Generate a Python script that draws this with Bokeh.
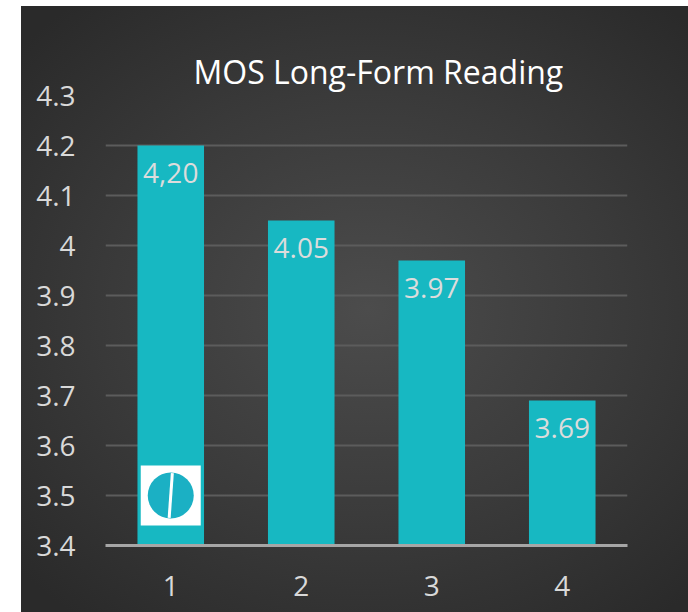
from bokeh.plotting import figure
from bokeh.models import FixedTicker, Spacer, ColumnDataSource
from bokeh.layouts import row, column
from bokeh.embed import file_html
from bokeh.resources import INLINE
from bokeh.core.properties import value

categories = ["1", "2", "3", "4"]
scores = [4.20, 4.05, 3.97, 3.69]
score_labels = ["4,20", "4.05", "3.97", "3.69"]
y_ticks = [3.4, 3.5, 3.6, 3.7, 3.8, 3.9, 4.0, 4.1, 4.2, 4.3]
title_text = "MOS Long-Form Reading"

FONT = "Open Sans"
BAR = "#17b8c2"

p = figure(
    x_range=categories, y_range=(3.4, 4.3),
    width=667, height=606,
    output_backend="svg", toolbar_location=None,
    min_border_left=84, min_border_right=61, min_border_top=89, min_border_bottom=67,
    title=title_text,
    styles={"background": "radial-gradient(ellipse 70% 65% at 52% 50%, #4c4c4c 0%, #3a3a3a 55%, #2a2a2a 100%)"},
)
p.x_range.range_padding = 0
p.background_fill_alpha = 0
p.border_fill_alpha = 0
p.outline_line_color = None

p.title.text_font = FONT
p.title.text_font_size = "32px"
p.title.text_font_style = "normal"
p.title.text_color = "#ffffff"
p.title.align = "left"
p.title.offset = 88
p.title.standoff = 6

src = ColumnDataSource(dict(cat=categories, val=scores, lab=score_labels))
p.vbar(x="cat", top="val", bottom=3.4, width=0.51, source=src,
       fill_color=BAR, line_color=None)

p.text(x="cat", y="val", text="lab", source=src,
       text_font=value(FONT), text_font_size="28px", text_color="#dcdcdc",
       text_align="center", text_baseline="top", y_offset=17)

# logo inside first bar
p.rect(x=["1"], y=[3.5], width=60, height=60, width_units="screen",
       height_units="screen", fill_color="white", line_color=None)
p.scatter(x=["1"], y=[3.5], size=46, marker="circle", fill_color="#1bb0c4",
          line_color=None)
p.scatter(x=["1"], y=[3.5], size=45, marker="dash", angle=1.5,
          line_color="white", line_width=3)

p.xgrid.grid_line_color = None
p.ygrid.ticker = FixedTicker(ticks=y_ticks)
p.ygrid.grid_line_color = "#5c5c5c"
p.ygrid.grid_line_width = 2

p.yaxis.ticker = FixedTicker(ticks=y_ticks)
p.yaxis.major_label_overrides = {4: "4"}
p.yaxis.axis_line_color = None
p.yaxis.major_tick_line_color = None
p.yaxis.minor_tick_line_color = None
p.yaxis.major_label_standoff = 24
p.yaxis.major_label_text_font = FONT
p.yaxis.major_label_text_font_size = "28px"
p.yaxis.major_label_text_color = "#d9d9d9"

p.xaxis.axis_line_color = "#a6a6a6"
p.xaxis.axis_line_width = 3
p.xaxis.major_tick_line_color = None
p.xaxis.minor_tick_line_color = None
p.xaxis.major_label_standoff = 24
p.xaxis.major_label_text_font = FONT
p.xaxis.major_label_text_font_size = "28px"
p.xaxis.major_label_text_color = "#d9d9d9"

layout = column(Spacer(width=688, height=6),
                row(Spacer(width=21, height=606), p, spacing=0),
                spacing=0)
open("out.html", "w").write(file_html(layout, INLINE))
